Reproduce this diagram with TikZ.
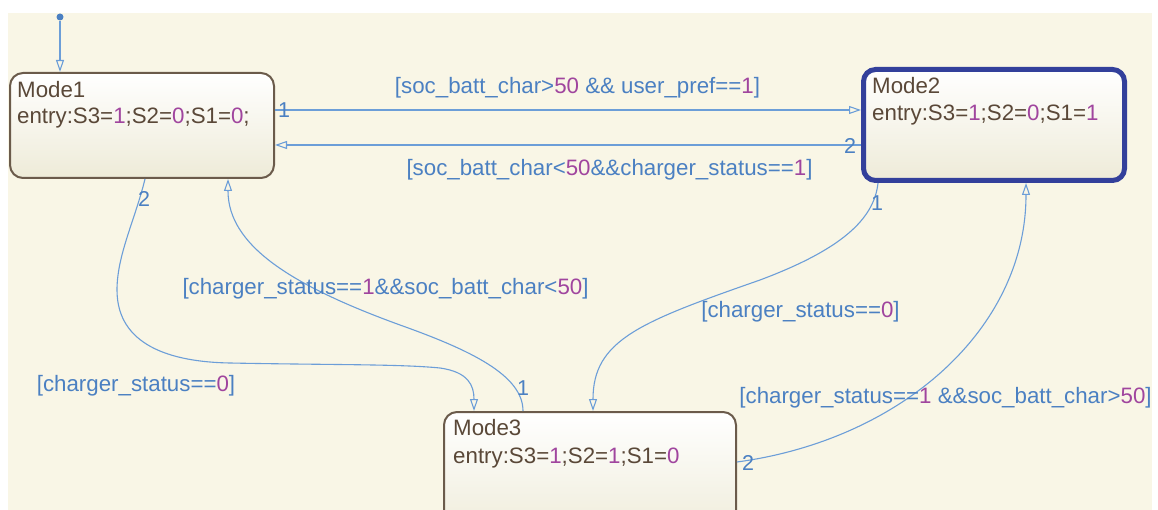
\documentclass[tikz,border=0pt]{standalone}
\usepackage{fontspec}
\setmainfont{Liberation Sans}
\usetikzlibrary{arrows.meta}
\definecolor{bgc}{HTML}{F9F6E6}
\definecolor{lblc}{HTML}{4B80C2}
\definecolor{numc}{HTML}{A0459E}
\definecolor{stxt}{HTML}{5A4838}
\definecolor{sbrd}{HTML}{6B5B4B}
\definecolor{actc}{HTML}{33409B}
\definecolor{trc}{HTML}{6C9ED8}
\definecolor{sbot}{HTML}{EEEBD8}
\newcommand{\numv}[1]{\textcolor{numc}{#1}}
\begin{document}
\begin{tikzpicture}[x=1pt,y=-1pt,
  every node/.style={font=\fontsize{22.3}{26}\selectfont},
  state/.style={draw=sbrd, line width=2pt, rounded corners=13pt, top color=white, bottom color=sbot, anchor=north west, inner sep=0pt},
  active/.style={state, draw=actc, line width=5pt, rounded corners=12pt},
  stxtn/.style={text=stxt, anchor=base west, inner sep=0pt},
  trans/.style={draw=trc, line width=1.1pt, -{Triangle[open,length=12pt,width=8pt]}},
  glabel/.style={text=lblc, inner sep=0pt},
  tnum/.style={text=lblc, inner sep=0pt, font=\fontsize{21.5}{24}\selectfont},
  initdot/.style={circle, fill=lblc, inner sep=0pt, minimum size=7pt}
]
\useasboundingbox (0,0) rectangle (1158,510);
\fill[bgc] (8,13) rectangle (1152,510);

% states
\node[state, minimum width=264, minimum height=105] (m1) at (9,72) {};
\node[active, minimum width=261, minimum height=111] (m2) at (861,67) {};
\node[state, minimum width=292, minimum height=130] (m3) at (443,411) {};

\node[stxtn] (m1a) at (17,98) {Mode1};
\node[stxtn] (m1b) at (17,124) {entry:S3=\numv{1};S2=\numv{0};S1=\numv{0};};
\node[stxtn] (m2a) at (872,94) {Mode2};
\node[stxtn] (m2b) at (872,121) {entry:S3=\numv{1};S2=\numv{0};S1=\numv{1}};
\node[stxtn] (m3a) at (453,435) {Mode3};
\node[stxtn] (m3b) at (453,463) {entry:S3=\numv{1};S2=\numv{1};S1=\numv{0}};

% initial transition
\node[initdot] (init) at (60,17) {};
\draw[trans] (init) -- (init |- m1.north);

% Mode1 -> Mode2
\draw[trans] (m1.east |- 0,110) -- (m2.west |- 0,110);
\node[tnum] (n12) at (284,110) {1};
% Mode2 -> Mode1
\draw[trans] (m2.west |- 0,145) -- (m1.east |- 0,145);
\node[tnum] (n21) at (850,146) {2};

% Mode1 -> Mode3
\draw[trans] (m1.south -| 145,0) .. controls (135,220) and (117,255) .. (117,290)
  .. controls (117,345) and (170,362) .. (230,363)
  .. controls (330,365) and (400,364) .. (440,368)
  .. controls (468,372) and (474,385) .. (m3.north -| 474,0);
\node[tnum] (n13) at (144,199) {2};

% Mode3 -> Mode1
\draw[trans] (m3.north -| 523,0) .. controls (523,375) and (470,350) .. (400,325)
  .. controls (290,285) and (228,245) .. (m1.south -| 228,0);
\node[tnum] (n31) at (523,388) {1};

% Mode2 -> Mode3
\draw[trans] (m2.south -| 878,0) .. controls (874,220) and (840,250) .. (760,280)
  .. controls (640,322) and (593,340) .. (m3.north -| 593,0);
\node[tnum] (n23) at (877,203) {1};

% Mode3 -> Mode2
\draw[trans] (m3.east |- 0,462) .. controls (900,440) and (1026,330) .. (m2.south -| 1026,0);
\node[tnum] (n32) at (748,463) {2};

% guards
\node[glabel] (g12) at (577.5,88) {[soc\_batt\_char>\numv{50} \&\& user\_pref==\numv{1}]};
\node[glabel] (g21) at (609.5,170) {[soc\_batt\_char<\numv{50}\&\&charger\_status==\numv{1}]};
\node[glabel] (g31) at (385.5,289) {[charger\_status==\numv{1}\&\&soc\_batt\_char<\numv{50}]};
\node[glabel] (g13) at (136,386) {[charger\_status==\numv{0}]};
\node[glabel] (g23) at (800.5,312) {[charger\_status==\numv{0}]};
\node[glabel] (g32) at (945.5,398) {[charger\_status==\numv{1} \&\&soc\_batt\_char>\numv{50}]};
\end{tikzpicture}
\end{document}
